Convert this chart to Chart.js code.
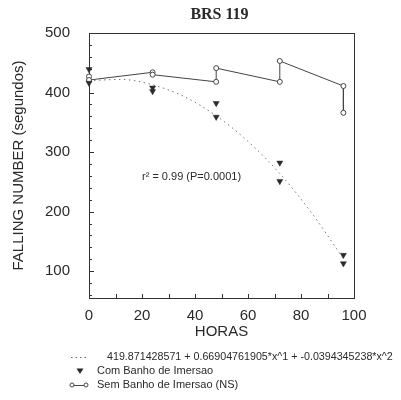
<!DOCTYPE html>
<html>
<head>
<meta charset="utf-8">
<script src="https://cdn.jsdelivr.net/npm/chart.js@4.4.1/dist/chart.umd.min.js"></script>
<style>
  html, body { margin: 0; padding: 0; background: #fff; }
  #wrap { width: 401px; height: 400px; }
</style>
</head>
<body>
<div id="wrap"><canvas id="fnChart" width="401" height="400"></canvas></div>
<script>
// falling number, BRS 119
const horas = [0, 0, 24, 24, 48, 48, 72, 72, 96, 96];
const comBanho = [439, 416, 408, 402, 382, 359, 282, 251, 127, 113];
const semBanho = [427, 421, 434, 430, 418, 441, 418, 453, 411, 366];

// fitted curve
const curveHoras = [0, 12, 24, 36, 48, 60, 72, 84, 96];
const curveFN = [420, 422, 413, 393, 361, 318, 264, 198, 121];

const xTicks = [0, 20, 40, 60, 80, 100];
const yTicks = [100, 200, 300, 400, 500];

const fitLabel = '419.871428571 + 0.66904761905*x^1 + -0.0394345238*x^2';
const r2Label = 'r\u00B2 = 0.99 (P=0.0001)';

const ink = '#2a2a2a';
const sans = "'Liberation Sans', Arial, sans-serif";

function pts(xs, ys) {
    return xs.map((x, i) => ({ x: x, y: ys[i] }));
}

// frame, inward ticks, title, r2 note and legend
const decor = {
    id: 'decor',
    beforeDatasetsDraw(chart) {
        const ctx = chart.ctx;
        const a = chart.chartArea;
        const xs = chart.scales.x, ys = chart.scales.y;
        ctx.save();
        ctx.strokeStyle = '#333';
        ctx.lineWidth = 1;
        ctx.strokeRect(a.left + 0.5, a.top + 0.5, a.right - a.left, a.bottom - a.top);
        ctx.beginPath();
        for (let v = 10; v < 100; v += 10) {
            const px = Math.round(xs.getPixelForValue(v)) + 0.5;
            ctx.moveTo(px, a.bottom);
            ctx.lineTo(px, a.bottom - 4);
        }
        for (let v = 60; v < 500; v += 20) {
            const py = Math.round(ys.getPixelForValue(v)) + 0.5;
            const len = v % 100 === 0 ? 5 : 3;
            ctx.moveTo(a.left, py);
            ctx.lineTo(a.left + len, py);
        }
        ctx.stroke();
        ctx.restore();
    },
    afterDraw(chart) {
        const ctx = chart.ctx;
        const a = chart.chartArea;
        const xs = chart.scales.x, ys = chart.scales.y;
        ctx.save();
        ctx.fillStyle = ink;

        ctx.font = "bold 16px 'Liberation Serif', 'Times New Roman', serif";
        ctx.textAlign = 'center';
        ctx.textBaseline = 'middle';
        ctx.fillText('BRS 119', (a.left + a.right) / 2 - 2, 15);

        ctx.font = '11px ' + sans;
        ctx.textAlign = 'left';
        ctx.fillText(r2Label, xs.getPixelForValue(20), ys.getPixelForValue(258));

        // legend
        const rows = [357, 371, 385];
        ctx.strokeStyle = '#666';
        ctx.lineWidth = 1;
        ctx.setLineDash([1.5, 3]);
        ctx.beginPath();
        ctx.moveTo(71, rows[0] + 0.5);
        ctx.lineTo(87, rows[0] + 0.5);
        ctx.stroke();
        ctx.setLineDash([]);
        ctx.font = '10.7px ' + sans;
        ctx.fillText(fitLabel, 107, rows[0]);
        ctx.font = '11px ' + sans;

        ctx.beginPath();
        ctx.moveTo(76.5, rows[1] - 2.5);
        ctx.lineTo(83.5, rows[1] - 2.5);
        ctx.lineTo(80, rows[1] + 3);
        ctx.closePath();
        ctx.fill();
        ctx.fillText('Com Banho de Imersao', 97, rows[1]);

        ctx.strokeStyle = '#444';
        ctx.beginPath();
        ctx.moveTo(74, rows[2] + 0.5);
        ctx.lineTo(84, rows[2] + 0.5);
        ctx.stroke();
        [72, 86].forEach(cx => {
            ctx.beginPath();
            ctx.arc(cx, rows[2], 2, 0, Math.PI * 2);
            ctx.stroke();
        });
        ctx.fillText('Sem Banho de Imersao (NS)', 97, rows[2]);
        ctx.restore();
    }
};

new Chart(document.getElementById('fnChart'), {
    type: 'scatter',
    data: {
        datasets: [{
            label: 'Com Banho de Imersao',
            data: pts(horas, comBanho),
            showLine: false,
            pointStyle: 'triangle',
            rotation: 180,
            pointRadius: 3.5,
            backgroundColor: '#2b2b2b',
            borderColor: '#2b2b2b',
            borderWidth: 0.5,
            clip: false,
            order: 0
        }, {
            label: 'Sem Banho de Imersao (NS)',
            data: pts(horas, semBanho),
            showLine: true,
            borderColor: '#444',
            borderWidth: 1,
            pointStyle: 'circle',
            pointRadius: 2.5,
            pointBackgroundColor: '#fff',
            pointBorderColor: '#444',
            pointBorderWidth: 1,
            clip: false,
            order: 1
        }, {
            label: fitLabel,
            data: pts(curveHoras, curveFN),
            showLine: true,
            borderColor: '#777',
            borderWidth: 1,
            borderDash: [1.5, 3.5],
            cubicInterpolationMode: 'monotone',
            pointRadius: 0,
            clip: false,
            order: 2
        }]
    },
    options: {
        responsive: false,
        animation: false,
        layout: { padding: { top: 33, right: 47, bottom: 58, left: 0 } },
        plugins: {
            legend: { display: false },
            tooltip: { enabled: false }
        },
        scales: {
            x: {
                type: 'linear',
                min: 0,
                max: 100,
                afterBuildTicks: axis => { axis.ticks = xTicks.map(v => ({ value: v })); },
                afterFit: axis => { axis.height = 44; },
                grid: { display: false },
                border: { display: false },
                ticks: { color: ink, padding: 1, font: { family: sans, size: 15 } },
                title: {
                    display: true,
                    text: 'HORAS',
                    color: ink,
                    padding: { top: 0, bottom: 1 },
                    font: { family: sans, size: 15 }
                }
            },
            y: {
                type: 'linear',
                min: 55,
                max: 500,
                afterBuildTicks: axis => { axis.ticks = yTicks.map(v => ({ value: v })); },
                afterFit: axis => { axis.width = 89; },
                grid: { display: false },
                border: { display: false },
                ticks: { color: ink, padding: 11, font: { family: sans, size: 15 } },
                title: {
                    display: true,
                    text: 'FALLING NUMBER (segundos)',
                    color: ink,
                    padding: { top: 10, bottom: 0 },
                    font: { family: sans, size: 15 }
                }
            }
        }
    },
    plugins: [decor]
});
</script>
</body>
</html>
